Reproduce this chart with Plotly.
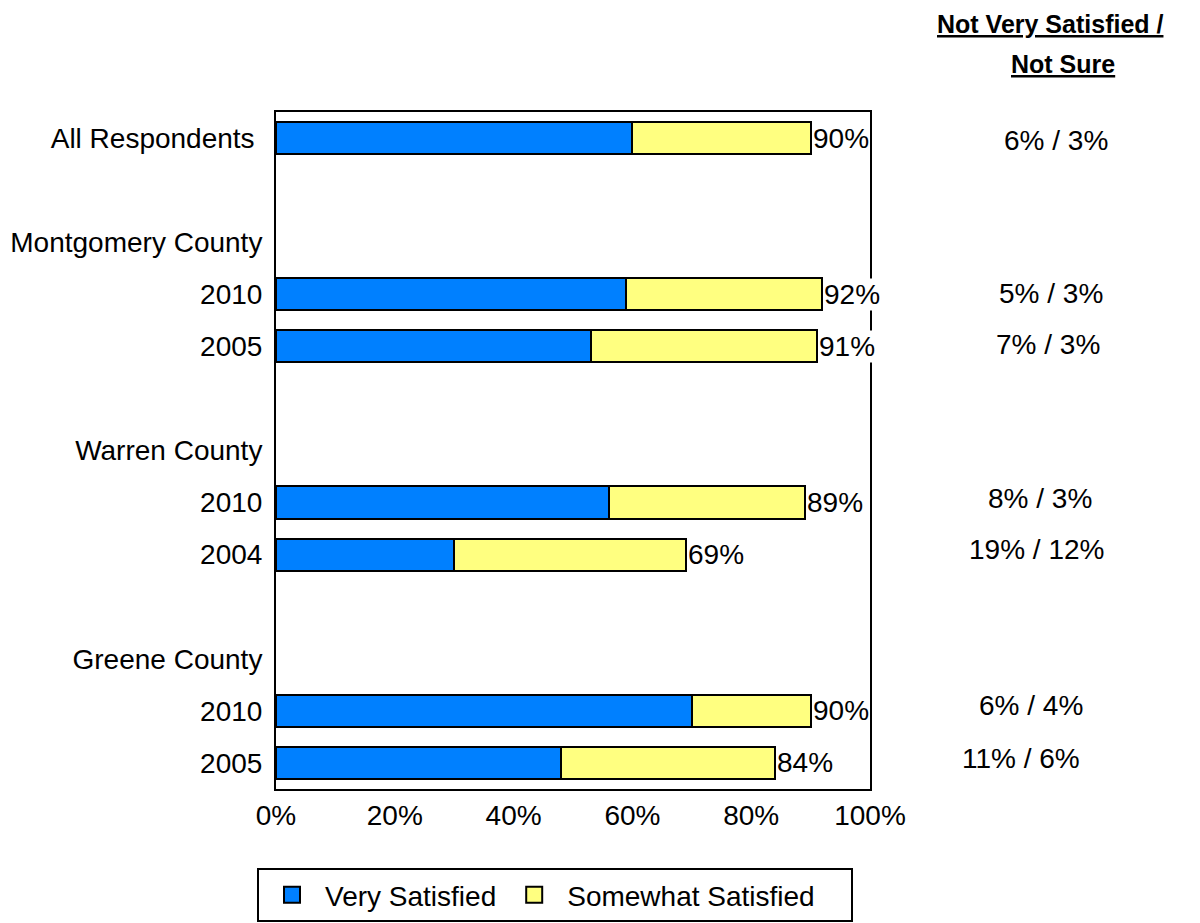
import plotly.graph_objects as go

# ---- data ----
categories = [
    "All Respondents",
    "Montgomery County|2010",
    "Montgomery County|2005",
    "Warren County|2010",
    "Warren County|2004",
    "Greene County|2010",
    "Greene County|2005",
]
very_satisfied = [60, 59, 53, 56, 30, 70, 48]
somewhat_satisfied = [30, 33, 38, 33, 39, 20, 36]
not_very_not_sure = ["6% / 3%", "5% / 3%", "7% / 3%", "8% / 3%", "19% / 12%", "6% / 4%", "11% / 6%"]

axis_rows = [
    "All Respondents", "gap1",
    "Montgomery County", "Montgomery County|2010", "Montgomery County|2005", "gap2",
    "Warren County", "Warren County|2010", "Warren County|2004", "gap3",
    "Greene County", "Greene County|2010", "Greene County|2005",
]
x_ticks = [0, 20, 40, 60, 80, 100]
x_tick_labels = ["0%", "20%", "40%", "60%", "80%", "100%"]
header_lines = ["Not Very Satisfied /", "Not Sure"]
legend_names = ["Very Satisfied", "Somewhat Satisfied"]


def row_text(r):
    if r.startswith("gap"):
        return ""
    if "|" in r:
        return r.split("|")[1]
    if r == "All Respondents":
        return r + "\u00a0"
    return r


FONT = "Liberation Sans, Arial, sans-serif"
FS = 28
BLUE = "#0080FF"
YELLOW = "#FFFF80"
colors = [BLUE, YELLOW]

fig = go.Figure()
for vals, nm, col in zip([very_satisfied, somewhat_satisfied], legend_names, colors):
    fig.add_trace(go.Bar(
        y=categories, x=vals, orientation="h", name=nm,
        marker=dict(color=col, line=dict(color="black", width=2)), width=0.62,
        showlegend=False, hoverinfo="x+y",
    ))
# legend entries (bigger square symbols than bar icons)
legend_pad = ["", "\u00a0" * 4]
for nm, col, pad in zip(legend_names, colors, legend_pad):
    fig.add_trace(go.Scatter(
        x=[None], y=[None], mode="markers", name=nm + pad,
        marker=dict(symbol="square", size=16, color=col, line=dict(color="black", width=2)),
    ))

annotations = []
# total labels at bar ends
for c, v, s in zip(categories, very_satisfied, somewhat_satisfied):
    annotations.append(dict(
        x=v + s, y=c, xref="x", yref="y", text=f"{v + s}%", showarrow=False,
        xanchor="left", xshift=1, bgcolor="white", borderpad=0,
        font=dict(family=FONT, size=FS, color="black"),
    ))
# right column
note_x = [1.313, 1.305, 1.30, 1.287, 1.28, 1.271, 1.254]
note_shift = [-2, 1, 2, 4, 5, 5, 4]
for c, t, nx, ys in zip(categories, not_very_not_sure, note_x, note_shift):
    annotations.append(dict(
        x=nx, y=c, xref="paper", yref="y", text=t, showarrow=False,
        xanchor="center", yshift=ys,
        font=dict(family=FONT, size=FS, color="black"),
    ))
# header (screen px -> paper)
for txt, hx, hy in zip(header_lines, [1050, 1063], [24, 64]):
    annotations.append(dict(
        x=(hx - 276) / 594, y=(789 - hy) / 677, xref="paper", yref="paper",
        text=f"<b><u>{txt}</u></b>", showarrow=False, xanchor="center", yanchor="middle",
        borderpad=0,
        font=dict(family=FONT, size=25, color="black"),
    ))

fig.update_layout(
    width=1200, height=923,
    margin=dict(l=268, r=338, t=104, b=142, autoexpand=False),
    paper_bgcolor="white", plot_bgcolor="white",
    barmode="stack",
    font=dict(family=FONT, size=FS, color="black"),
    xaxis=dict(
        range=[0, 100], tickvals=x_ticks, ticktext=x_tick_labels,
        showgrid=False, zeroline=False, showline=True, mirror=True,
        linecolor="black", linewidth=2, ticks="", ticklabelstandoff=0,
        automargin=False,
        tickfont=dict(family=FONT, size=FS, color="black"),
    ),
    yaxis=dict(
        type="category", categoryorder="array", categoryarray=axis_rows,
        tickvals=axis_rows, ticktext=[row_text(r) for r in axis_rows],
        range=[len(axis_rows) - 0.5, -0.5],
        showgrid=False, zeroline=False, showline=True, mirror=True,
        linecolor="black", linewidth=2, ticks="", ticklabelstandoff=6,
        automargin=False,
        tickfont=dict(family=FONT, size=FS, color="black"),
    ),
    legend=dict(
        orientation="h", traceorder="normal",
        xref="container", x=(257 - 8) / 1200,
        yref="container", y=1 - (868 - 8) / 923, yanchor="top", xanchor="left",
        bordercolor="black", borderwidth=2, bgcolor="white",
        itemwidth=56,
        font=dict(family=FONT, size=FS, color="black"),
    ),
    annotations=annotations,
)

fig.write_html("out.html")
